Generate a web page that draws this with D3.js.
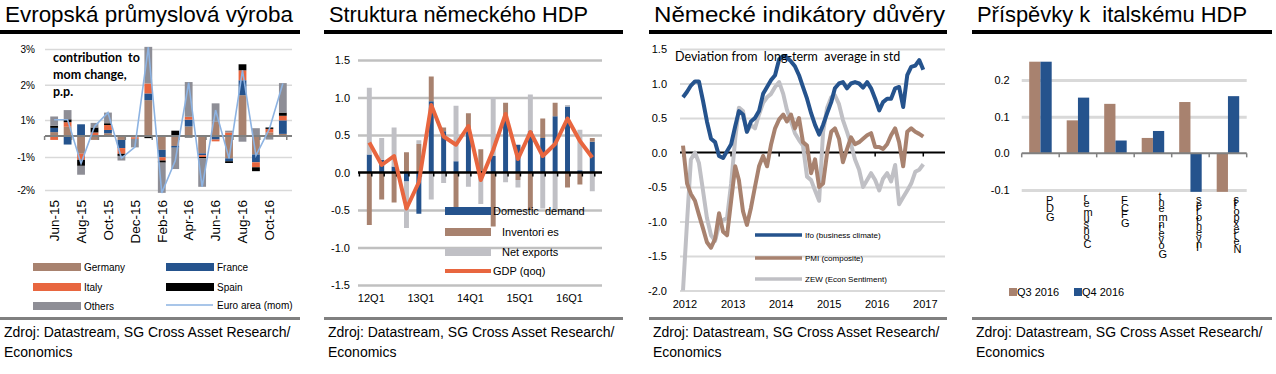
<!DOCTYPE html>
<html>
<head>
<meta charset="utf-8">
<script src="https://cdn.jsdelivr.net/npm/d3@7"></script>
<style>
body { margin: 0; background: #fff; }
svg { display: block; font-family: "Liberation Sans", Arial, sans-serif; }
</style>
</head>
<body>
<div id="chart"></div>
<script>
// ===== data =====
var source1 = "Zdroj: Datastream, SG Cross Asset Research/";
var source2 = "Economics";

// panel 1 - euro area industrial production, contributions
var p1Months = ["Jun-15","Jul-15","Aug-15","Sep-15","Oct-15","Nov-15","Dec-15","Jan-16","Feb-16",
  "Mar-16","Apr-16","May-16","Jun-16","Jul-16","Aug-16","Sep-16","Oct-16","Nov-16"];
var p1Germany = [0.11, 0.26, -0.50, -0.11, 0.08, -0.11, -0.04, 1.01, -0.39, -0.28, 0.27, -0.49, 0.40, -0.63, 1.15, -0.52, 0.10, 0.06];
var p1France  = [0.12, -0.24, 0.33, 0.00, 0.09, -0.23, 0.00, 0.19, -0.21, -0.05, 0.19, -0.05, -0.10, -0.08, 0.42, -0.22, 0.00, 0.38];
var p1Italy   = [-0.11, 0.13, -0.17, 0.10, 0.14, -0.16, -0.04, 0.28, -0.09, 0.00, 0.08, -0.05, -0.05, 0.10, 0.28, -0.14, 0.10, 0.13];
var p1Spain   = [0.06, 0.08, -0.17, 0.14, 0.05, -0.06, 0.00, -0.06, -0.06, 0.15, -0.04, -0.04, 0.00, -0.05, 0.17, -0.11, 0.04, 0.09];
var p1Others  = [0.26, 0.26, -0.25, 0.13, 0.30, -0.13, -0.24, 1.03, -0.85, -0.60, 0.98, -0.80, 0.52, 0.05, -0.16, 0.22, -0.10, 0.83];
var p1EuroArea = [0.46, 0.46, -0.77, 0.27, 0.66, -0.62, -0.31, 2.50, -1.60, -0.70, 1.50, -1.43, 0.73, -0.63, 1.85, -0.55, 0.20, 1.48];
var p1TickVals = [2.45, 1.44, 0.45, -0.59, -1.52];
var p1TickLabels = ["3%", "2%", "1%", "-1%", "-2%"];
var p1Keys = ["Germany", "France", "Italy", "Spain", "Others"];
var p1Colors = ["#a8826f", "#25538d", "#e8663f", "#000000", "#8e8e96"];

// panel 2 - German GDP structure
var p2Quarters = ["12Q1","12Q2","12Q3","12Q4","13Q1","13Q2","13Q3","13Q4","14Q1","14Q2","14Q3","14Q4",
  "15Q1","15Q2","15Q3","15Q4","16Q1","16Q2","16Q3"];
var p2Domestic    = [0.24, 0.17, 0.08, -0.12, -0.55, 0.95, 0.55, 0.15, 0.55, 0.02, 0.22, 0.73, 0.37, 0.55, 0.46, 0.75, 0.88, 0.03, 0.41];
var p2Inventories = [-0.70, -0.36, -0.40, 0.27, 0.38, 0.33, 0.05, -0.52, 0.24, 0.29, -0.72, 0.20, -0.10, -0.50, 0.26, 0.18, -0.20, -0.16, 0.05];
var p2NetExports  = [0.89, 0.29, 0.52, -0.62, 0.05, -0.36, -0.14, 0.74, -0.19, -0.42, 0.78, -0.13, -0.10, 0.49, -0.48, -0.50, 0.02, 0.54, -0.25];
var p2Gdp         = [0.40, 0.10, 0.22, -0.48, -0.13, 0.90, 0.48, 0.37, 0.62, -0.10, 0.30, 0.78, 0.18, 0.54, 0.22, 0.38, 0.72, 0.42, 0.20];
var p2TickVals = [1.5, 1.0, 0.5, 0.0, -0.5, -1.0, -1.5];
var p2TickLabels = ["1.5", "1.0", "0.5", "0.0", "-0.5", "-1.0", "-1.5"];
var p2XLabels = ["12Q1", "13Q1", "14Q1", "15Q1", "16Q1"];

// panel 3 - German confidence indicators, monthly from Jan 2012
var p3Ifo = [0.80, 0.88, 0.97, 1.03, 1.03, 0.75, 0.45, 0.20, 0.15, -0.05,
  -0.08, 0.02, 0.12, 0.38, 0.60, 0.55, 0.30, 0.45, 0.50, 0.60,
  0.85, 0.95, 1.05, 1.12, 1.35, 1.40, 1.38, 1.32, 1.25, 1.12,
  0.95, 0.78, 0.57, 0.40, 0.26, 0.40, 0.57, 0.73, 0.93, 1.00,
  1.02, 0.93, 1.00, 1.02, 1.00, 0.94, 1.02, 0.93, 0.78, 0.61,
  0.73, 0.78, 0.78, 0.93, 0.95, 0.66, 1.12, 1.24, 1.26, 1.34, 1.20];
var p3Pmi = [0.10, -0.45, -0.60, -0.70, -0.90, -1.10, -1.30, -1.38, -1.25, -0.88,
  -1.15, -1.20, -0.70, -0.20, -0.40, -0.85, -1.05, -0.80, -0.50, -0.20,
  -0.05, -0.20, 0.12, 0.35, 0.48, 0.55, 0.45, 0.55, 0.35, 0.50,
  0.15, 0.10, -0.30, -0.10, -0.50, -0.45, 0.00, 0.30, 0.35, 0.20,
  -0.14, 0.05, 0.22, 0.12, 0.15, 0.20, 0.25, 0.28, 0.08, 0.08,
  0.05, 0.12, 0.25, 0.35, 0.15, -0.20, 0.30, 0.35, 0.30, 0.27, 0.23];
var p3Zew = [-2.00, -1.00, -0.10, 0.00, -0.15, -0.55, -0.95, -1.20, -1.28, -1.05,
  -0.98, -0.95, -0.45, 0.20, 0.65, 0.60, 0.30, 0.40, 0.35, 0.55,
  0.72, 0.80, 0.85, 0.95, 1.02, 0.85, 0.62, 0.45, 0.28, 0.18,
  0.10, -0.35, -0.40, -0.55, -0.70, 0.30, 0.65, 0.80, 0.83, 0.70,
  0.47, 0.30, 0.12, -0.10, -0.25, -0.50, -0.40, -0.30, -0.40, -0.55,
  -0.38, -0.30, -0.42, -0.18, -0.75, -0.65, -0.55, -0.45, -0.28, -0.25, -0.17];
var p3Years = [2012, 2013, 2014, 2015, 2016, 2017];
var p3TickVals = [1.5, 1.0, 0.5, 0.0, -0.5, -1.0, -1.5, -2.0];
var p3TickLabels = ["1.5", "1.0", "0.5", "0.0", "-0.5", "-1.0", "-1.5", "-2.0"];

// panel 4 - contributions to Italian GDP
var p4Categories = ["GDP", "Consumer", "GFCF", "Government", "Inventories", "Net exports"];
var p4Series = ["Q3 2016", "Q4 2016"];
var p4Q3 = [0.250, 0.090, 0.135, 0.042, 0.140, -0.105];
var p4Q4 = [0.250, 0.152, 0.035, 0.061, -0.105, 0.156];
var p4TickVals = [0.2, 0.1, 0.0, -0.1];
var p4TickLabels = ["0.2", "0.1", "0.0", "-0.1"];

var blue = "#25538d", brown = "#a8826f", orange = "#e8663f", lgrey = "#c0c0c5";

var svg = d3.select("#chart")
  .append("svg")
    .attr("width", 1276)
    .attr("height", 374);

// title, heading rule, footer rule and source of one panel
function frame(x0, x1, title, titleLen) {
  svg.append("text")
    .attr("x", x0 + 5)
    .attr("y", 22)
    .attr("textLength", titleLen)
    .attr("lengthAdjust", "spacingAndGlyphs")
    .style("font-size", "22px")
    .style("white-space", "pre")
    .text(title);
  svg.append("rect")
    .attr("x", x0).attr("y", 30)
    .attr("width", x1 - x0).attr("height", 4)
    .attr("fill", "#000");
  svg.append("rect")
    .attr("x", x0).attr("y", 317)
    .attr("width", x1 - x0).attr("height", 3)
    .attr("fill", "#808080");
  svg.append("text")
    .attr("x", x0 + 4).attr("y", 337)
    .style("font-size", "14px")
    .text(source1);
  svg.append("text")
    .attr("x", x0 + 4).attr("y", 357)
    .style("font-size", "14px")
    .text(source2);
}

// y axis with gridlines, labels from arrays
function yAxis(g, y, x0, x1, vals, labels, gridVals, gridColor, gridWidth, pad, fs) {
  g.append("g")
    .attr("transform", "translate(" + x0 + ",0)")
    .call(d3.axisLeft(y).tickValues(gridVals).tickSize(-(x1 - x0)).tickFormat(""))
    .call(function(a) { a.select(".domain").remove(); })
    .selectAll("line")
      .attr("stroke", gridColor)
      .attr("stroke-width", gridWidth);
  g.append("g")
    .attr("transform", "translate(" + x0 + ",0)")
    .call(d3.axisLeft(y).tickValues(vals).tickSize(0).tickPadding(pad)
      .tickFormat(function(d, i) { return labels[i]; }))
    .call(function(a) { a.select(".domain").remove(); })
    .selectAll("text")
      .attr("fill", "#000")
      .style("font-family", "Liberation Sans, Arial, sans-serif")
      .style("font-size", fs);
}

// zero line with little tick marks
function zeroLine(g, y0, x0, x1, tickXs, color, w) {
  g.append("line")
    .attr("x1", x0).attr("x2", x1)
    .attr("y1", y0).attr("y2", y0)
    .attr("stroke", color)
    .attr("stroke-width", w);
  g.selectAll(null)
    .data(tickXs)
    .enter()
    .append("line")
      .attr("x1", function(d) { return d; })
      .attr("x2", function(d) { return d; })
      .attr("y1", y0)
      .attr("y2", y0 + 4)
      .attr("stroke", color)
      .attr("stroke-width", 1.5);
}

// ===== panel 1 =====
frame(0, 300, "Evropská průmyslová výroba", 288);
var g1 = svg.append("g");
var x1 = d3.scaleBand().domain(p1Months).range([44.6, 292.4]).padding(0.42);
var y1 = d3.scaleLinear().domain([-1.52, 2.45]).range([190, 49]);

yAxis(g1, y1, 45, 292, p1TickVals, p1TickLabels, p1TickVals, "#d9d9d9", 1.5, 10, "10px");

var p1Rows = p1Months.map(function(m, i) {
  return { month: m, Germany: p1Germany[i], France: p1France[i], Italy: p1Italy[i], Spain: p1Spain[i], Others: p1Others[i] };
});
var p1Stack = d3.stack().keys(p1Keys).offset(d3.stackOffsetDiverging)(p1Rows);

g1.selectAll(".layer1")
  .data(p1Stack)
  .enter().append("g")
    .attr("fill", function(d, i) { return p1Colors[i]; })
  .selectAll("rect")
  .data(function(d) { return d; })
  .enter().append("rect")
    .attr("x", function(d) { return x1(d.data.month); })
    .attr("y", function(d) { return y1(d[1]); })
    .attr("width", x1.bandwidth())
    .attr("height", function(d) { return y1(d[0]) - y1(d[1]); });

var p1Ticks = d3.range(0, 19, 2).map(function(i) { return 44.6 + i * x1.step(); });
zeroLine(g1, y1(0), 45, 292, p1Ticks, "#808080", 2);

g1.append("path")
  .datum(p1EuroArea)
  .attr("fill", "none")
  .attr("stroke", "#8db3e2")
  .attr("stroke-width", 1.6)
  .attr("d", d3.line()
    .x(function(d, i) { return x1(p1Months[i]) + x1.bandwidth() / 2; })
    .y(function(d) { return y1(d); }));

g1.selectAll(".xlab1")
  .data(p1Months.filter(function(d, i) { return i % 2 == 0; }))
  .enter().append("text")
    .attr("transform", function(d) { return "translate(" + (x1(d) + x1.bandwidth() / 2) + ",200) rotate(-90)"; })
    .attr("dy", "0.35em")
    .attr("text-anchor", "end")
    .style("font-size", "13.5px")
    .text(function(d) { return d; });

var note1 = g1.append("text")
  .style("font-family", "Lato, 'Open Sans', sans-serif")
  .style("font-weight", "bold")
  .style("font-size", "12.5px")
  .style("white-space", "pre");
note1.append("tspan").attr("x", 53).attr("y", 62).text("contribution  to");
note1.append("tspan").attr("x", 53).attr("y", 79).text("mom change,");
note1.append("tspan").attr("x", 53).attr("y", 96).text("p.p.");

// legend
var p1Legend = [["Germany", 33, 263], ["France", 166, 263], ["Italy", 33, 283], ["Spain", 166, 283], ["Others", 33, 302]];
p1Legend.forEach(function(d, i) {
  g1.append("rect").attr("x", d[1]).attr("y", d[2]).attr("width", 48).attr("height", 8).attr("fill", p1Colors[p1Keys.indexOf(d[0])]);
  g1.append("text").attr("x", d[1] + 51).attr("y", d[2] + 4).attr("dy", "0.35em").style("font-size", "10px").text(d[0]);
});
g1.append("line").attr("x1", 166).attr("x2", 213).attr("y1", 305).attr("y2", 305)
  .attr("stroke", "#8db3e2").attr("stroke-width", 1.6);
g1.append("text").attr("x", 217).attr("y", 305).attr("dy", "0.35em").style("font-size", "10px").text("Euro area (mom)");

// ===== panel 2 =====
frame(324, 623, "Struktura německého HDP", 259);
var g2 = svg.append("g");
var x2 = d3.scaleBand().domain(p2Quarters).range([359.4, 602.2]).padding(0.6);
var y2 = d3.scaleLinear().domain([-1.5, 1.5]).range([285, 60]);

yAxis(g2, y2, 358, 602, p2TickVals, p2TickLabels, p2TickVals.filter(function(d) { return d != 0; }), "#c0c0c0", 2.5, 8, "11px");

var p2Rows = p2Quarters.map(function(q, i) {
  return { q: q, dd: p2Domestic[i], inv: p2Inventories[i], nx: p2NetExports[i] };
});
var p2Stack = d3.stack().keys(["dd", "inv", "nx"]).offset(d3.stackOffsetDiverging)(p2Rows);
var p2Colors = [blue, brown, lgrey];

g2.selectAll(".layer2")
  .data(p2Stack)
  .enter().append("g")
    .attr("fill", function(d, i) { return p2Colors[i]; })
  .selectAll("rect")
  .data(function(d) { return d; })
  .enter().append("rect")
    .attr("x", function(d) { return x2(d.data.q); })
    .attr("y", function(d) { return y2(d[1]); })
    .attr("width", x2.bandwidth())
    .attr("height", function(d) { return y2(d[0]) - y2(d[1]); });

var p2Ticks = d3.range(0, 20).map(function(i) { return 359.4 + i * x2.step(); });
zeroLine(g2, y2(0), 358, 602, p2Ticks, "#000", 2.5);

g2.append("path")
  .datum(p2Gdp)
  .attr("fill", "none")
  .attr("stroke", orange)
  .attr("stroke-width", 4)
  .attr("stroke-linejoin", "round")
  .attr("d", d3.line()
    .x(function(d, i) { return x2(p2Quarters[i]) + x2.bandwidth() / 2; })
    .y(function(d) { return y2(d); }));

g2.selectAll(".xlab2")
  .data(p2XLabels)
  .enter().append("text")
    .attr("x", function(d) { return x2(d) + x2.bandwidth() / 2 + 2; })
    .attr("y", 302)
    .attr("text-anchor", "middle")
    .style("font-size", "11px")
    .text(function(d) { return d; });

// legend inside the plot
var p2Legend = [["Domestic  demand", blue, 207, 493], ["Inventori es", brown, 228, 502], ["Net exports", lgrey, 248, 502]];
p2Legend.forEach(function(d) {
  g2.append("rect").attr("x", 445).attr("y", d[2]).attr("width", 46).attr("height", 8).attr("fill", d[1]);
  g2.append("text").attr("x", d[3]).attr("y", d[2] + 4).attr("dy", "0.35em")
    .style("font-size", "11px").style("white-space", "pre").text(d[0]);
});
g2.append("line").attr("x1", 445).attr("x2", 491).attr("y1", 271).attr("y2", 271)
  .attr("stroke", orange).attr("stroke-width", 4);
g2.append("text").attr("x", 493).attr("y", 271).attr("dy", "0.35em").style("font-size", "11px").text("GDP (qoq)");

// ===== panel 3 =====
frame(649, 947, "Německé indikátory důvěry", 291);
var g3 = svg.append("g");
var p3Dates = p3Ifo.map(function(d, i) { return new Date(2012, i, 1); });
var x3 = d3.scaleTime().domain([new Date(2012, 0, 1), new Date(2017, 5, 15)]).range([683, 945]);
var y3 = d3.scaleLinear().domain([-2, 1.5]).range([290.5, 49]);

yAxis(g3, y3, 680, 945, p3TickVals, p3TickLabels, p3TickVals.filter(function(d) { return d != 0; }), "#d9d9d9", 2, 13, "11px");

var p3YearX = p3Years.map(function(yr) { return x3(new Date(yr, 0, 1)); });
zeroLine(g3, y3(0), 680, 945, p3YearX, "#000", 2);

var line3 = d3.line()
  .x(function(d, i) { return x3(p3Dates[i]); })
  .y(function(d) { return y3(d); });

[[p3Zew, lgrey], [p3Pmi, brown], [p3Ifo, blue]].forEach(function(s) {
  g3.append("path")
    .datum(s[0])
    .attr("fill", "none")
    .attr("stroke", s[1])
    .attr("stroke-width", 4)
    .attr("stroke-linejoin", "round")
    .attr("d", line3);
});

g3.selectAll(".xlab3")
  .data(p3Years)
  .enter().append("text")
    .attr("x", function(d) { return x3(new Date(d, 0, 1)) + 2; })
    .attr("y", 308)
    .attr("text-anchor", "middle")
    .style("font-size", "11px")
    .text(function(d) { return d; });

g3.append("text")
  .attr("x", 675).attr("y", 61)
  .style("font-family", "Lato, 'Open Sans', sans-serif")
  .style("font-size", "12.5px")
  .style("white-space", "pre")
  .text("Deviation from  long-term  average in std");

var p3Legend = [["Ifo (business climate)", blue, 235], ["PMI (composite)", brown, 258], ["ZEW (Econ Sentiment)", lgrey, 279]];
p3Legend.forEach(function(d) {
  g3.append("line").attr("x1", 755).attr("x2", 802).attr("y1", d[2]).attr("y2", d[2])
    .attr("stroke", d[1]).attr("stroke-width", 3.5);
  g3.append("text").attr("x", 805).attr("y", d[2]).attr("dy", "0.35em").style("font-size", "8px").text(d[0]);
});

// ===== panel 4 =====
frame(972, 1272, "Příspěvky k  italskému HDP", 270);
var g4 = svg.append("g");
var x4 = d3.scaleBand().domain(p4Categories).range([1021.7, 1246.7]).paddingInner(0.4).paddingOuter(0.2);
var x4s = d3.scaleBand().domain(p4Series).range([0, x4.bandwidth()]);
var y4 = d3.scaleLinear().domain([-0.1, 0.25]).range([190, 61.7]);

yAxis(g4, y4, 1021.7, 1246.7, p4TickVals, p4TickLabels, [0.2, 0.1, -0.1], "#d9d9d9", 3, 12, "11px");

var p4Rows = p4Categories.map(function(c, i) { return { cat: c, vals: [p4Q3[i], p4Q4[i]] }; });
var p4Colors = [brown, blue];

g4.selectAll(".grp4")
  .data(p4Rows)
  .enter().append("g")
    .attr("transform", function(d) { return "translate(" + x4(d.cat) + ",0)"; })
  .selectAll("rect")
  .data(function(d) { return d.vals; })
  .enter().append("rect")
    .attr("x", function(d, i) { return x4s(p4Series[i]); })
    .attr("y", function(d) { return y4(Math.max(d, 0)); })
    .attr("width", x4s.bandwidth())
    .attr("height", function(d) { return Math.abs(y4(d) - y4(0)); })
    .attr("fill", function(d, i) { return p4Colors[i]; });

var p4Ticks = d3.range(0, 7).map(function(i) { return 1021.7 + i * x4.step(); });
zeroLine(g4, y4(0), 1021.7, 1246.7, p4Ticks, "#808080", 2);

// category labels: rotated text with upright glyphs
g4.selectAll(".xlab4")
  .data(p4Categories)
  .enter().append("text")
    .attr("transform", function(d) { return "translate(" + (x4(d) + x4.bandwidth() / 2 + 5.5) + ",197) rotate(-90)"; })
    .attr("text-anchor", "end")
    .attr("rotate", 90)
    .style("font-size", "11px")
    .text(function(d) { return d; });

p4Series.forEach(function(s, i) {
  var lx = [1009, 1074][i];
  g4.append("rect").attr("x", lx).attr("y", 288).attr("width", 8).attr("height", 8).attr("fill", p4Colors[i]);
  g4.append("text").attr("x", lx + 8).attr("y", 292).attr("dy", "0.35em").style("font-size", "11px").text(s);
});
</script>
</body>
</html>
